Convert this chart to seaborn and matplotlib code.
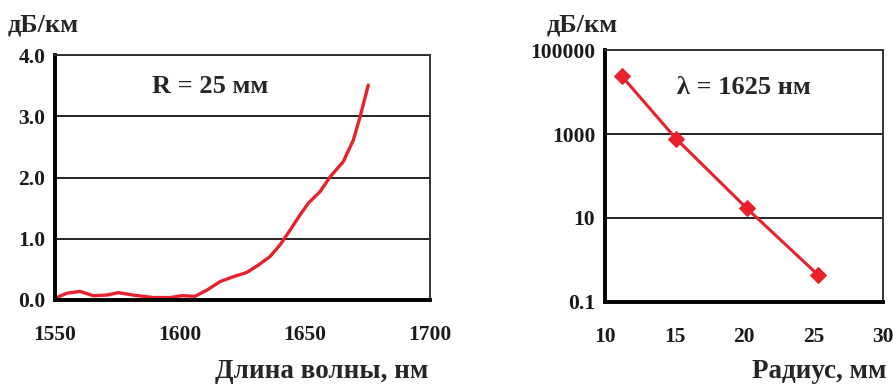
import numpy as np
import pandas as pd
import matplotlib
matplotlib.use("Agg")
import matplotlib.pyplot as plt
import seaborn as sns
from matplotlib.ticker import FixedLocator, FixedFormatter

# spectral bend loss at R = 25 mm
wavelength = [1550, 1554.7, 1560, 1565.3, 1570.7, 1575.3, 1581.3, 1589.3, 1596, 1600.7,
              1606, 1610.7, 1616, 1621.3, 1626.7, 1631.3, 1636, 1640, 1644, 1648,
              1651.3, 1656, 1660, 1665.3, 1669.3, 1672, 1675.3]
loss_wl = [0.03, 0.11, 0.14, 0.07, 0.08, 0.12, 0.08, 0.04, 0.04, 0.07,
           0.06, 0.16, 0.30, 0.38, 0.45, 0.57, 0.71, 0.90, 1.14, 1.39,
           1.58, 1.77, 2.01, 2.26, 2.61, 2.99, 3.51]

# bend loss vs radius at 1625 nm
radius = [11.2, 15.1, 20.2, 25.3]
loss_r = [24000, 780, 17, 0.45]

xticks_l = [1550, 1600, 1650, 1700]
yticks_l = [0.0, 1.0, 2.0, 3.0, 4.0]
xticks_r = [10, 15, 20, 25, 30]
yticks_r = [0.1, 10, 1000, 100000]
yticklabels_r = ["0.1", "10", "1000", "100000"]

df1 = pd.DataFrame({"wl": wavelength, "loss": loss_wl})
df2 = pd.DataFrame({"r": radius, "loss": loss_r})

sns.set_style("white")
plt.rcParams['font.family'] = ['Liberation Serif', 'DejaVu Serif']
plt.rcParams['font.weight'] = 'bold'

red = '#e8222c'
fig = plt.figure(figsize=(8.93, 3.85), dpi=100)
ax1 = fig.add_axes([0.0616, 0.2208, 0.42, 0.6362])
ax2 = fig.add_axes([0.6775, 0.2156, 0.3113, 0.6545])

sns.lineplot(x="wl", y="loss", data=df1, ax=ax1, color=red, lw=2.4)
sns.lineplot(x="r", y="loss", data=df2, ax=ax2, color=red, lw=2.2,
             marker='D', markersize=8, markeredgecolor=red)

ax1.set_xlim(1550, 1700)
ax1.set_ylim(0, 4)
ax1.set_xticks(xticks_l)
ax1.set_yticks(yticks_l)
ax1.set_yticklabels(["%.1f" % v for v in yticks_l])

ax2.set_yscale('log')
ax2.set_xlim(10, 30)
ax2.set_ylim(0.1, 100000)
ax2.set_xticks(xticks_r)
ax2.yaxis.set_major_locator(FixedLocator(yticks_r))
ax2.yaxis.set_major_formatter(FixedFormatter(yticklabels_r))
ax2.yaxis.set_minor_locator(FixedLocator([]))

for ax in (ax1, ax2):
    ax.set_xlabel('')
    ax.set_ylabel('')
    ax.grid(True, axis='y', color='#222222', lw=1.4)
    ax.grid(False, axis='x')
    for s in ('left', 'bottom'):
        ax.spines[s].set_color('black')
        ax.spines[s].set_linewidth(2.8)
    for s in ('right', 'top'):
        ax.spines[s].set_color('#333333')
        ax.spines[s].set_linewidth(1.4)
    ax.tick_params(axis='both', which='major', direction='out', length=6, width=2.2,
                   color='black', labelsize=15.5, labelcolor='#1a1a1a')
    ax.tick_params(axis='x', pad=12)
    ax.tick_params(axis='y', pad=1)
    for lab in ax.get_xticklabels() + ax.get_yticklabels():
        lab.set_fontweight('bold')
    ax.set_axisbelow(True)

ax1.text(0.413, 0.87, "R = 25 мм", transform=ax1.transAxes, ha='center', va='center',
         fontsize=19, fontweight='bold')
ax2.text(0.5, 0.85, "λ = 1625 нм", transform=ax2.transAxes, ha='center', va='center',
         fontsize=19, fontweight='bold')

fig.text(8 / 893, 1 - 25 / 385, "дБ/км", ha='left', va='center', fontsize=19, fontweight='bold')
fig.text(547 / 893, 1 - 25 / 385, "дБ/км", ha='left', va='center', fontsize=19, fontweight='bold')
fig.text(428 / 893, 1 - 371 / 385, "Длина волны, нм", ha='right', va='center', fontsize=19.5,
         fontweight='bold')
fig.text(886 / 893, 1 - 371 / 385, "Радиус, мм", ha='right', va='center', fontsize=19.5,
         fontweight='bold')

fig.savefig("out.png", dpi=100, facecolor='white')
